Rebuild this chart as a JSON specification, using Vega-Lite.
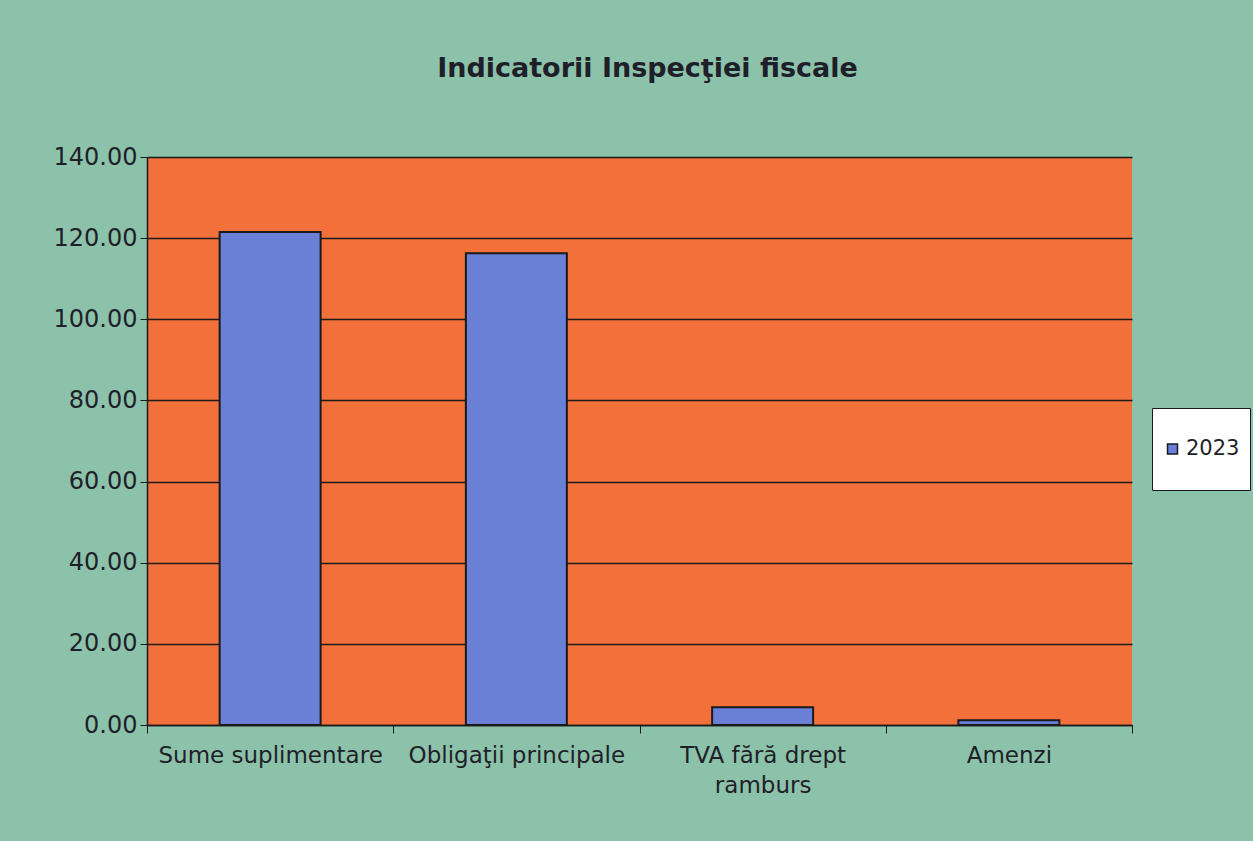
{
  "$schema": "https://vega.github.io/schema/vega-lite/v6.json",
  "width": 985,
  "height": 568,
  "autosize": {"type": "none"},
  "padding": {"left": 147, "top": 157, "right": 121, "bottom": 116},
  "background": "#8cc2a9",
  "title": {
    "text": "Indicatorii Inspecţiei fiscale",
    "font": "DejaVu Sans",
    "fontSize": 27,
    "fontWeight": "bold",
    "color": "#1f1f2a",
    "anchor": "middle",
    "dx": 8,
    "offset": 62
  },
  "config": {
    "view": {"fill": "#f3703a", "stroke": null},
    "font": "DejaVu Sans"
  },
  "data": {
    "values": [
      {"indicator": "Sume suplimentare", "value": 121.5, "series": "2023"},
      {"indicator": "Obligaţii principale", "value": 116.3, "series": "2023"},
      {"indicator": "TVA fără drept ramburs", "value": 4.4, "series": "2023"},
      {"indicator": "Amenzi", "value": 1.2, "series": "2023"}
    ]
  },
  "mark": {"type": "bar", "width": {"band": 0.41}, "stroke": "#1a1a1a", "strokeWidth": 2},
  "encoding": {
    "x": {
      "field": "indicator",
      "type": "nominal",
      "sort": null,
      "scale": {"paddingInner": 0, "paddingOuter": 0},
      "axis": {
        "title": null,
        "labelAngle": 0,
        "labelFontSize": 23,
        "labelColor": "#1f1f2a",
        "labelPadding": 11,
        "labelLimit": 300,
        "labelLineHeight": 30,
        "labelExpr": "datum.label == 'TVA fără drept ramburs' ? ['TVA fără drept', 'ramburs'] : datum.label",
        "tickBand": "extent",
        "tickSize": 8,
        "tickColor": "#1a1a1a",
        "domainColor": "#1a1a1a",
        "domainWidth": 1.5,
        "grid": false
      }
    },
    "y": {
      "field": "value",
      "type": "quantitative",
      "scale": {"domain": [0, 140], "nice": false},
      "axis": {
        "title": null,
        "values": [0, 20, 40, 60, 80, 100, 120, 140],
        "format": ".2f",
        "labelFontSize": 24,
        "labelColor": "#1f1f2a",
        "labelPadding": 3,
        "tickSize": 7,
        "tickColor": "#1a1a1a",
        "domainColor": "#1a1a1a",
        "domainWidth": 1.5,
        "grid": true,
        "gridColor": "#1a1a1a",
        "gridWidth": 1.3,
        "gridOpacity": 1
      }
    },
    "color": {
      "field": "series",
      "type": "nominal",
      "scale": {"range": ["#6a7fd6"]},
      "legend": {
        "title": null,
        "orient": "none",
        "legendX": 1005,
        "legendY": 251,
        "fillColor": "#ffffff",
        "strokeColor": "#1a1a1a",
        "padding": 10,
        "clipHeight": 62,
        "symbolType": "square",
        "symbolSize": 100,
        "symbolStrokeColor": "#1a1a2a",
        "symbolStrokeWidth": 1.5,
        "symbolOffset": 0,
        "labelFontSize": 21,
        "labelColor": "#1f1f2a",
        "labelOffset": 3
      }
    }
  }
}
